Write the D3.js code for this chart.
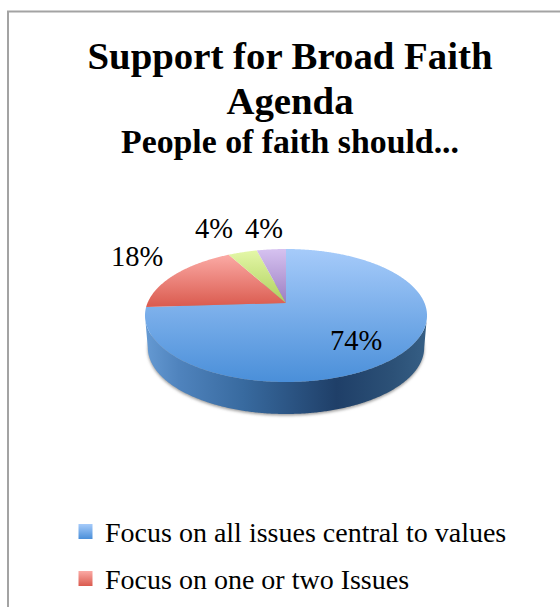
<!DOCTYPE html>
<html>
<head>
<meta charset="utf-8">
<script src="https://cdn.jsdelivr.net/npm/d3@7"></script>
<style>
html, body { margin: 0; padding: 0; background: #fff; overflow: hidden; }
text { font-family: "Liberation Serif", serif; fill: #000; }
</style>
</head>
<body>
<svg id="chart" width="560" height="607"></svg>
<script>
// Survey shares, in percent, clockwise from twelve o'clock
const sliceValues = [74, 18, 4, 4];
const legendLabels = ["Focus on all issues central to values", "Focus on one or two Issues"];
const titleLines = ["Support for Broad Faith", "Agenda"];
const subtitle = "People of faith should...";
const sliceTones = [
  ["#a6cbfa", "#4a8fd9"],
  ["#fbaaa5", "#da5a4e"],
  ["#e4f7a8", "#aed05c"],
  ["#d6c2f0", "#9c7ec2"]
];

const svg = d3.select("#chart");
const defs = svg.append("defs");

// Tilted disc: a unit circle under a perspective map
const apex = { x: 286, y: 303 };
const tilt = -0.188, spanX = 138.5, spanY = 64.15, depth = 32, baseShrink = 0.98;
const project = a => {
  const u = Math.sin(a), v = -Math.cos(a), w = 1 + tilt * v;
  return [apex.x + spanX * u / w, apex.y + spanY * v / w];
};
const projectBase = a => {
  const [x, y] = project(a);
  return [apex.x + (x - apex.x) * baseShrink, y + depth];
};
const line = d3.line();
const step = Math.PI / 360;
const sweep = (a0, a1) => d3.range(a0, a1, step).concat([a1]);

// Frame, open on the right and at the bottom
svg.append("path")
  .attr("d", "M8,607V11.5H560")
  .attr("fill", "none").attr("stroke", "#a3a3a3").attr("stroke-width", 2);

// Titles
const title = svg.append("g").attr("text-anchor", "middle").attr("font-weight", "bold");
title.selectAll("text.main").data(titleLines).join("text")
  .attr("class", "main")
  .attr("x", 290).attr("y", (d, i) => 68.5 + i * 45)
  .attr("font-size", 38.8)
  .text(d => d);
title.append("text")
  .attr("x", 290).attr("y", 153)
  .attr("font-size", 33.8)
  .text(subtitle);

// Gradients
sliceTones.forEach((tone, i) => {
  const g = defs.append("linearGradient").attr("id", "tone" + i)
    .attr("x1", 0).attr("y1", 0).attr("x2", 0).attr("y2", 1);
  g.append("stop").attr("offset", "0%").attr("stop-color", tone[0]);
  g.append("stop").attr("offset", "100%").attr("stop-color", tone[1]);
});
const wall = defs.append("linearGradient").attr("id", "wall");
[["0%", "#659ad3"], ["12%", "#4f83bd"], ["35%", "#386a9f"], ["68%", "#1f3f68"], ["88%", "#2c5177"], ["100%", "#365f85"]]
  .forEach(([o, c]) => wall.append("stop").attr("offset", o).attr("stop-color", c));
defs.append("filter").attr("id", "soft")
  .attr("x", "-10%").attr("y", "-10%").attr("width", "120%").attr("height", "120%")
  .append("feGaussianBlur").attr("stdDeviation", 1.6);

// Ground shadow and side wall
const ring = sweep(0, 2 * Math.PI);
const leftEdge = d3.least(ring, a => project(a)[0]);
const rightEdge = d3.least(ring, a => -project(a)[0]);
const frontTop = sweep(rightEdge, leftEdge).map(project);
const frontBase = sweep(rightEdge, leftEdge).reverse().map(projectBase);

svg.append("path")
  .attr("d", line(ring.map(a => { const p = projectBase(a); return [p[0], p[1] + 1.5]; })) + "Z")
  .attr("fill", "#9a9a9a").attr("filter", "url(#soft)");
svg.append("path")
  .attr("d", line(frontTop.concat(frontBase)) + "Z")
  .attr("fill", "url(#wall)");

// Slices on the top face
const pie = d3.pie().sort(null)(sliceValues);
svg.append("g").selectAll("path").data(pie).join("path")
  .attr("d", d => line([[apex.x, apex.y]].concat(sweep(d.startAngle, d.endAngle).map(project))) + "Z")
  .attr("fill", (d, i) => `url(#tone${i})`);

// Slice labels
const labelSpots = [[356, 350], [137, 266], [214, 238], [264, 238]];
svg.append("g").attr("text-anchor", "middle").selectAll("text").data(pie).join("text")
  .attr("x", (d, i) => labelSpots[i][0]).attr("y", (d, i) => labelSpots[i][1])
  .attr("font-size", 28.5)
  .text(d => d.value + "%");

// Legend
const legend = svg.append("g").selectAll("g").data(legendLabels).join("g")
  .attr("transform", (d, i) => `translate(78.5,${524 + i * 47})`);
legend.append("rect").attr("width", 14).attr("height", 15)
  .attr("fill", (d, i) => `url(#tone${i})`);
legend.append("text").attr("x", 26.5).attr("y", 18)
  .attr("font-size", 28)
  .text(d => d);
</script>
</body>
</html>
